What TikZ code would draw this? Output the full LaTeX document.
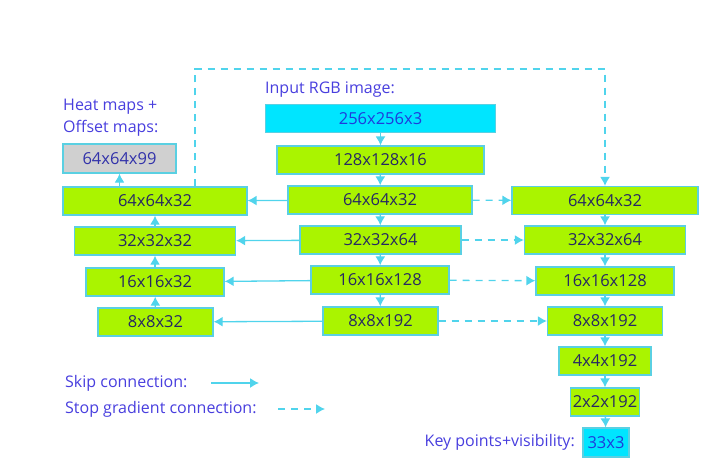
\documentclass[tikz,border=0pt]{standalone}
\usepackage{fontspec}
\setmainfont{Open Sans}
\usepackage{tikz}
\usetikzlibrary{positioning}
\usetikzlibrary{calc}
\usetikzlibrary{arrows.meta}

\definecolor{lime}{RGB}{170,244,0}
\definecolor{aqua}{RGB}{0,229,255}
\definecolor{greybox}{RGB}{208,208,208}
\definecolor{rim}{RGB}{90,208,226}
\definecolor{navy}{RGB}{38,40,100}
\definecolor{violet}{RGB}{72,62,222}
\definecolor{inkblue}{RGB}{30,60,220}
\definecolor{inkgrey}{RGB}{50,50,170}
\definecolor{arr}{RGB}{80,212,236}

\tikzset{
  layer/.style={draw=rim, line width=1.3pt, fill=lime, text=navy, minimum height=28pt,
    inner sep=0pt, font=\fontsize{16.5}{18}\selectfont},
  inlayer/.style={layer, fill=aqua, text=inkblue},
  outlayer/.style={layer, fill=greybox, text=inkgrey},
  lbl/.style={text=violet, font=\fontsize{16}{22}\selectfont, inner sep=0pt, anchor=west, align=left},
  skip/.style={draw=arr, line width=1.3pt, -{Latex[length=9pt,width=10pt]}},
  stopgrad/.style={skip, dash pattern=on 7pt off 6pt},
  down/.style={skip}
}

\begin{document}
\begin{tikzpicture}[x=1pt, y=-1pt]
    \useasboundingbox (0,0) rectangle (720,469);

    % Encoder (middle)
    \node[inlayer, minimum width=230pt] (in) at (380.5,118.5) {256x256x3};
    \node[layer, minimum width=207pt] (c1) at (380.5,160) {128x128x16};
    \node[layer, minimum width=184pt] (c2) at (380,200) {64x64x32};
    \node[layer, minimum width=161pt] (c3) at (380.5,240) {32x32x64};
    \node[layer, minimum width=138pt] (c4) at (380,280) {16x16x128};
    \node[layer, minimum width=115pt] (c5) at (380.5,321) {8x8x192};

    % Heatmap decoder (left)
    \node[outlayer, minimum width=113pt, minimum height=29pt] (hm) at (119.5,158.5) {64x64x99};
    \node[layer, minimum width=184pt] (l2) at (155,201) {64x64x32};
    \node[layer, minimum width=161pt] (l3) at (155,241) {32x32x32};
    \node[layer, minimum width=138pt] (l4) at (155,282) {16x16x32};
    \node[layer, minimum width=115pt] (l5) at (155.5,322) {8x8x32};

    % Regression branch (right)
    \node[layer, minimum width=186pt] (r2) at (605,200.5) {64x64x32};
    \node[layer, minimum width=161pt] (r3) at (605,240) {32x32x64};
    \node[layer, minimum width=138pt] (r4) at (605,281) {16x16x128};
    \node[layer, minimum width=115pt] (r5) at (605,321) {8x8x192};
    \node[layer, minimum width=92pt] (r6) at (605,361) {4x4x192};
    \node[layer, minimum width=69pt] (r7) at (605,402) {2x2x192};
    \node[inlayer, minimum width=46pt, minimum height=29pt] (kp) at (606,442.5) {33x3};

    % Labels
    \node[lbl] (inlbl) at (265,90) {Input RGB image:};
    \node[lbl] (hmlbl) at (63,118) {Heat maps +\\Offset maps:};
    \node[lbl, anchor=east] (kplbl) at (575,442) {Key points+visibility:};

    % Down the middle
    \draw[down] (in) -- (c1);
    \draw[down] (c1) -- (c2);
    \draw[down] (c2) -- (c3);
    \draw[down] (c3) -- (c4);
    \draw[down] (c4) -- (c5);

    % Up the left
    \draw[down] (l5) -- (l4);
    \draw[down] (l4) -- (l3);
    \draw[down] (l3) -- (l2);
    \draw[down] (l2.north -| hm) -- (hm);

    % Down the right
    \draw[down] (r2) -- (r3);
    \draw[down] (r3) -- (r4);
    \draw[down] (r4) -- (r5);
    \draw[down] (r5) -- (r6);
    \draw[down] (r6) -- (r7);
    \draw[down] (r7) -- (kp);

    % Skip connections
    \draw[skip] (c2) -- (l2);
    \draw[skip] (c3) -- (l3);
    \draw[skip] (c4) -- (l4);
    \draw[skip] (c5) -- (l5);

    % Stop gradient connections
    \draw[stopgrad] (c2) -- (r2);
    \draw[stopgrad] (c3) -- (r3);
    \draw[stopgrad] (c4) -- (r4);
    \draw[stopgrad] (c5) -- (r5);
    \coordinate (t1) at (195,69);
    \coordinate (t2) at (605,69);
    \draw[stopgrad] (l2.north -| t1) -- (t1) -- (t2) -- (r2);

    % Legend
    \node[lbl] (sk) at (65,383) {Skip connection:};
    \node[lbl] (sg) at (65,409) {Stop gradient connection:};
    \coordinate (sk1) at (211,383);
    \coordinate (sk2) at (259,383);
    \coordinate (sg1) at (278,409);
    \coordinate (sg2) at (325,409);
    \draw[skip] (sk1) -- (sk2);
    \draw[stopgrad] (sg1) -- (sg2);
\end{tikzpicture}
\end{document}
